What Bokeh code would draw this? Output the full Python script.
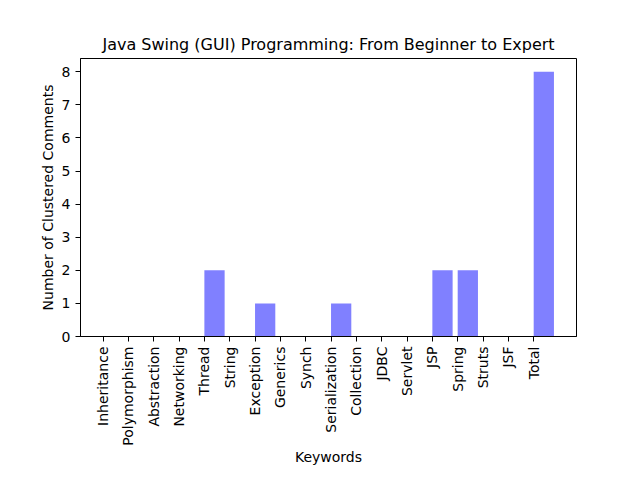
import math
from bokeh.plotting import figure
from bokeh.models import FixedTicker, Range1d, ColumnDataSource
from bokeh.embed import file_html
from bokeh.resources import INLINE

keywords = ["Inheritance", "Polymorphism", "Abstraction", "Networking", "Thread",
            "String", "Exception", "Generics", "Synch", "Serialization", "Collection",
            "JDBC", "Servlet", "JSP", "Spring", "Struts", "JSF", "Total"]
counts = [0, 0, 0, 0, 2, 0, 1, 0, 0, 1, 0, 0, 0, 2, 2, 0, 0, 8]

idx = list(range(len(keywords)))
bar_w = 0.8
src = ColumnDataSource(dict(left=idx, right=[i + bar_w for i in idx], top=counts,
                            bottom=[0] * len(idx)))

FONT = "DejaVu Sans"
p = figure(width=640, height=480, output_backend="svg", toolbar_location=None,
           min_border_left=80, min_border_right=64, min_border_top=58,
           min_border_bottom=144,
           x_range=Range1d(-0.89, len(idx) - 1 + bar_w + 0.89),
           y_range=Range1d(0, max(counts) * 1.05))

p.quad(left="left", right="right", top="top", bottom="bottom", source=src,
       fill_color="#8080ff", line_color=None)

p.title.text = "Java Swing (GUI) Programming: From Beginner to Expert"
p.title.align = "center"
p.title.text_font = FONT
p.title.text_font_size = "16px"
p.title.text_font_style = "normal"
p.title.text_color = "black"
p.title.standoff = 9

p.xgrid.visible = False
p.ygrid.visible = False
p.outline_line_color = "black"
p.outline_line_alpha = 1
p.outline_line_width = 1
p.background_fill_color = "white"
p.border_fill_color = "white"

p.xaxis.ticker = FixedTicker(ticks=idx)
p.xaxis.major_label_overrides = {i: k for i, k in zip(idx, keywords)}
p.xaxis.major_label_orientation = math.pi / 2
p.xaxis.axis_label = "Keywords"
p.yaxis.ticker = FixedTicker(ticks=list(range(0, 9)))
p.yaxis.axis_label = "Number of Clustered Comments"

for ax in (p.xaxis, p.yaxis):
    ax.major_tick_in = 0
    ax.major_tick_out = 5
    ax.minor_tick_line_color = None
    ax.major_label_text_font = FONT
    ax.major_label_text_font_size = "14px"
    ax.major_label_text_color = "black"
    ax.axis_label_text_font = FONT
    ax.axis_label_text_font_size = "14px"
    ax.axis_label_text_font_style = "normal"
    ax.axis_label_text_color = "black"
    ax.axis_line_color = "black"
    ax.major_tick_line_color = "black"
    ax.major_label_standoff = 5
p.xaxis.axis_label_standoff = 0
p.yaxis.axis_label_standoff = 3

open("out.html", "w").write(file_html(p, INLINE))
